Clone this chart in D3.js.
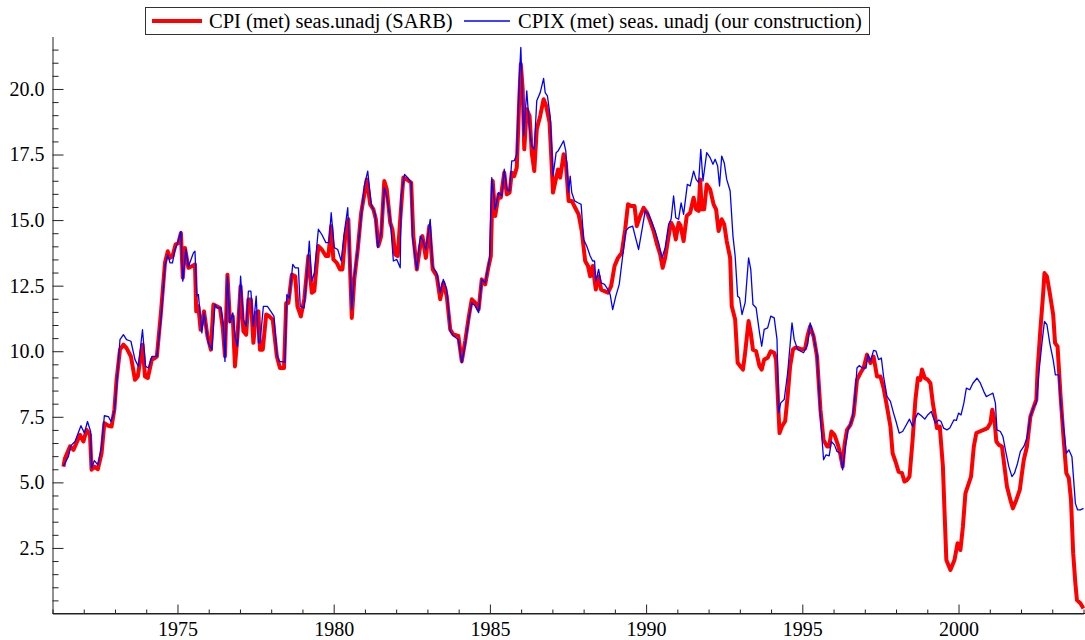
<!DOCTYPE html>
<html>
<head>
<meta charset="utf-8">
<script src="https://cdn.jsdelivr.net/npm/d3@7"></script>
<style>
  html, body { margin: 0; padding: 0; background: #fff; }
  svg { display: block; }
  text { font-family: "Liberation Serif", "Times New Roman", serif; }
</style>
</head>
<body>
<svg id="chart" width="1085" height="640"></svg>
<script>
// ---- Data ----
const seriesNames = ["CPI (met) seas.unadj (SARB)", "CPIX (met) seas. unadj (our construction)"];

const cpiDates = [
1971.35,1971.40,1971.56,1971.67,1971.88,1971.99,1972.09,1972.20,1972.25,1972.34,1972.45,1972.57,1972.66,1972.79,1972.89,1972.98,
1973.05,1973.16,1973.27,1973.37,1973.51,1973.64,1973.73,1973.88,1973.96,1974.05,1974.18,1974.28,1974.34,1974.47,1974.60,1974.69,
1974.76,1974.84,1974.94,1975.03,1975.11,1975.17,1975.24,1975.35,1975.46,1975.56,1975.60,1975.67,1975.74,1975.85,1975.96,1976.07,
1976.15,1976.26,1976.36,1976.45,1976.52,1976.60,1976.68,1976.77,1976.84,1976.92,1977.02,1977.11,1977.20,1977.27,1977.35,1977.43,
1977.52,1977.59,1977.64,1977.73,1977.84,1977.94,1978.05,1978.18,1978.28,1978.41,1978.48,1978.55,1978.66,1978.77,1978.84,1978.95,
1979.06,1979.19,1979.30,1979.38,1979.51,1979.62,1979.75,1979.83,1979.92,1979.99,1980.10,1980.20,1980.28,1980.37,1980.47,1980.58,
1980.66,1980.77,1980.88,1980.98,1981.06,1981.17,1981.27,1981.35,1981.43,1981.52,1981.62,1981.70,1981.81,1981.88,1981.97,1982.05,
1982.13,1982.23,1982.34,1982.48,1982.55,1982.66,1982.77,1982.84,1982.95,1983.06,1983.17,1983.30,1983.41,1983.51,1983.62,1983.73,
1983.83,1983.99,1984.10,1984.21,1984.32,1984.42,1984.53,1984.64,1984.74,1984.85,1984.96,1985.03,1985.09,1985.17,1985.28,1985.35,
1985.46,1985.54,1985.63,1985.70,1985.78,1985.86,1985.94,1985.99,1986.05,1986.10,1986.18,1986.27,1986.34,1986.42,1986.50,1986.61,
1986.72,1986.80,1986.91,1987.02,1987.12,1987.18,1987.25,1987.36,1987.43,1987.52,1987.62,1987.73,1987.84,1987.94,1988.05,1988.14,
1988.21,1988.29,1988.39,1988.48,1988.56,1988.67,1988.78,1988.88,1988.99,1989.10,1989.22,1989.33,1989.42,1989.52,1989.63,1989.70,
1989.81,1989.92,1990.03,1990.13,1990.24,1990.35,1990.45,1990.53,1990.61,1990.72,1990.80,1990.88,1990.95,1991.04,1991.10,1991.20,
1991.30,1991.41,1991.52,1991.60,1991.68,1991.73,1991.78,1991.86,1991.94,1992.05,1992.16,1992.24,1992.32,1992.42,1992.50,1992.58,
1992.69,1992.74,1992.85,1992.93,1993.01,1993.10,1993.17,1993.28,1993.35,1993.42,1993.52,1993.63,1993.70,1993.78,1993.89,1993.99,
1994.10,1994.16,1994.21,1994.27,1994.35,1994.45,1994.53,1994.61,1994.70,1994.77,1994.85,1994.99,1995.09,1995.17,1995.25,1995.36,
1995.47,1995.58,1995.68,1995.79,1995.86,1995.93,1996.03,1996.14,1996.22,1996.29,1996.35,1996.43,1996.54,1996.64,1996.75,1996.86,
1996.96,1997.07,1997.18,1997.28,1997.39,1997.50,1997.60,1997.71,1997.82,1997.89,1998.00,1998.08,1998.19,1998.27,1998.35,1998.43,
1998.53,1998.62,1998.70,1998.78,1998.83,1998.92,1999.02,1999.10,1999.18,1999.31,1999.40,1999.50,1999.55,1999.61,1999.74,1999.87,
1999.97,2000.06,2000.14,2000.22,2000.33,2000.40,2000.49,2000.57,2000.68,2000.80,2000.93,2001.02,2001.08,2001.15,2001.21,2001.29,
2001.39,2001.47,2001.55,2001.66,2001.74,2001.85,2001.96,2002.03,2002.09,2002.19,2002.30,2002.41,2002.49,2002.53,2002.62,2002.71,
2002.75,2002.83,2002.92,2003.03,2003.09,2003.17,2003.26,2003.35,2003.45,2003.53,2003.60,2003.67,2003.74,2003.79,2003.90,2004.00
];
const cpiValues = [
5.60,5.92,6.37,6.24,6.81,6.56,7.00,6.81,5.48,5.60,5.50,6.10,7.26,7.16,7.13,7.77,
8.91,10.06,10.25,10.12,9.80,8.91,9.04,10.25,9.04,8.98,9.68,9.74,9.80,11.46,13.37,13.81,
13.56,13.62,14.07,14.13,14.51,12.80,13.94,13.18,13.24,13.31,11.52,11.71,10.82,11.52,10.57,10.06,
11.78,11.71,11.65,10.89,9.81,12.92,11.14,11.33,9.42,10.57,12.48,10.76,10.63,11.97,11.97,10.32,
11.46,11.52,10.06,10.06,11.40,11.33,11.20,9.81,9.36,9.36,11.84,11.84,12.92,12.86,11.71,11.33,
12.00,13.63,12.23,12.29,14.01,13.88,13.63,13.63,14.77,13.50,13.37,13.12,13.12,14.39,15.03,11.27,
12.74,13.88,15.28,15.98,16.55,15.60,15.41,15.03,14.01,14.39,16.49,16.17,14.90,14.65,13.69,13.63,
15.03,16.62,16.55,16.43,14.39,13.12,14.01,14.39,13.56,14.77,13.12,12.87,11.98,12.61,12.10,10.83,
10.64,10.58,9.62,10.39,11.28,11.98,11.85,11.60,12.74,12.55,13.25,13.63,16.49,15.16,15.98,15.86,
16.81,15.98,16.05,16.81,16.68,17.00,19.61,20.95,19.99,17.70,19.23,18.97,17.57,16.87,18.46,18.97,
19.61,19.36,18.72,16.05,16.60,16.93,16.62,17.51,17.19,15.73,15.73,15.47,15.22,14.58,13.44,13.25,
12.86,13.25,12.35,12.86,12.35,12.29,12.23,12.48,13.25,13.56,13.75,14.65,15.60,15.54,15.54,14.77,
15.16,15.47,15.28,14.96,14.58,14.07,13.69,13.18,13.56,14.39,14.90,14.71,14.26,14.90,14.80,14.20,
15.16,15.28,15.85,15.41,15.35,16.55,15.41,15.41,16.36,16.17,15.60,15.41,14.58,15.03,14.84,14.20,
13.56,11.72,11.21,9.56,9.43,9.30,9.94,11.15,10.70,10.06,10.00,9.43,9.30,9.68,9.75,10.00,
9.94,9.68,8.41,6.88,7.14,7.33,8.28,9.43,10.06,10.13,10.13,10.06,10.10,10.60,10.95,10.57,
9.80,7.77,6.62,6.37,6.37,6.94,6.81,6.43,6.05,5.60,6.43,7.00,7.19,7.58,8.91,9.17,
9.36,9.87,9.55,9.80,9.04,9.04,8.60,7.89,7.13,6.11,5.73,5.41,5.35,5.03,5.09,5.22,
6.62,8.15,8.98,8.91,9.30,8.98,8.91,8.78,8.00,7.07,7.13,5.60,3.95,2.04,1.66,2.04,
2.68,2.42,3.31,4.58,4.97,5.22,6.37,6.88,6.94,7.00,7.07,7.26,7.77,7.38,6.56,6.43,
6.37,5.60,4.84,4.33,4.01,4.33,4.71,5.35,5.86,6.37,7.51,7.89,8.15,9.29,10.82,12.22,
12.98,12.85,12.22,11.39,10.31,10.18,8.40,6.88,5.35,5.16,4.33,2.29,1.15,0.51,0.39,0.19
];

const cpixDates = [
1971.35,1971.51,1971.59,1971.72,1971.91,1972.02,1972.12,1972.22,1972.25,1972.34,1972.45,1972.57,1972.66,1972.79,1972.87,1972.98,
1973.05,1973.16,1973.27,1973.37,1973.51,1973.64,1973.75,1973.88,1973.98,1974.07,1974.18,1974.34,1974.47,1974.60,1974.69,1974.76,
1974.84,1974.92,1975.01,1975.11,1975.17,1975.27,1975.35,1975.51,1975.56,1975.62,1975.67,1975.78,1975.85,1975.99,1976.10,1976.20,
1976.28,1976.39,1976.47,1976.52,1976.60,1976.68,1976.77,1976.84,1976.92,1977.02,1977.11,1977.20,1977.27,1977.35,1977.43,1977.52,
1977.59,1977.64,1977.75,1977.88,1978.02,1978.09,1978.18,1978.26,1978.44,1978.50,1978.58,1978.69,1978.77,1978.87,1978.93,1979.05,
1979.14,1979.22,1979.30,1979.38,1979.51,1979.62,1979.75,1979.85,1979.92,1980.02,1980.13,1980.24,1980.34,1980.45,1980.58,1980.66,
1980.77,1980.88,1980.98,1981.09,1981.20,1981.33,1981.41,1981.52,1981.62,1981.70,1981.81,1981.91,1982.02,1982.13,1982.16,1982.27,
1982.37,1982.48,1982.52,1982.66,1982.77,1982.84,1982.95,1983.09,1983.16,1983.30,1983.41,1983.51,1983.62,1983.73,1983.83,1983.99,
1984.10,1984.21,1984.32,1984.42,1984.53,1984.64,1984.74,1984.85,1984.99,1985.06,1985.17,1985.28,1985.38,1985.46,1985.54,1985.63,
1985.70,1985.78,1985.86,1985.95,1985.99,1986.08,1986.18,1986.27,1986.34,1986.42,1986.50,1986.61,1986.72,1986.77,1986.84,1986.93,
1987.02,1987.12,1987.18,1987.30,1987.36,1987.43,1987.52,1987.57,1987.62,1987.71,1987.82,1987.92,1988.00,1988.10,1988.21,1988.29,
1988.35,1988.39,1988.48,1988.56,1988.67,1988.78,1988.85,1988.93,1989.03,1989.14,1989.25,1989.35,1989.44,1989.57,1989.65,1989.76,
1989.87,1989.97,1990.08,1990.19,1990.29,1990.40,1990.51,1990.61,1990.72,1990.80,1990.88,1990.95,1991.04,1991.12,1991.20,1991.32,
1991.41,1991.52,1991.60,1991.68,1991.75,1991.82,1991.94,1992.05,1992.14,1992.21,1992.29,1992.35,1992.42,1992.50,1992.58,1992.69,
1992.78,1992.85,1992.93,1992.99,1993.07,1993.17,1993.28,1993.35,1993.42,1993.52,1993.63,1993.70,1993.78,1993.89,1993.99,1994.10,
1994.19,1994.24,1994.31,1994.42,1994.53,1994.67,1994.74,1994.85,1994.95,1995.04,1995.17,1995.25,1995.36,1995.47,1995.58,1995.68,
1995.76,1995.86,1995.93,1996.03,1996.11,1996.22,1996.29,1996.38,1996.46,1996.59,1996.67,1996.75,1996.82,1996.93,1997.04,1997.10,
1997.18,1997.28,1997.36,1997.44,1997.53,1997.60,1997.71,1997.82,1997.92,1998.00,1998.10,1998.21,1998.30,1998.43,1998.53,1998.62,
1998.70,1998.81,1998.92,1999.02,1999.13,1999.18,1999.26,1999.37,1999.44,1999.52,1999.63,1999.72,1999.85,1999.93,2000.00,2000.08,
2000.17,2000.25,2000.36,2000.46,2000.59,2000.70,2000.81,2000.89,2001.00,2001.10,2001.18,2001.23,2001.34,2001.42,2001.50,2001.61,
2001.71,2001.79,2001.89,2001.98,2002.09,2002.19,2002.30,2002.41,2002.49,2002.57,2002.67,2002.75,2002.83,2002.92,2003.03,2003.10,
2003.21,2003.28,2003.37,2003.45,2003.53,2003.63,2003.74,2003.81,2003.90,2004.00
];
const cpixValues = [
5.62,5.99,6.40,6.56,7.16,6.88,7.32,6.94,5.54,5.83,5.67,6.37,7.54,7.51,7.32,7.70,
8.66,10.44,10.63,10.44,10.38,9.68,9.42,10.82,9.42,9.36,9.80,9.80,11.20,13.24,13.68,13.37,
13.37,13.88,14.15,14.57,12.67,13.88,13.22,13.75,13.81,12.10,12.16,10.70,11.46,10.32,10.06,11.78,
11.65,11.65,10.95,9.61,12.86,11.08,11.46,10.57,10.19,12.86,11.20,10.95,12.29,12.29,10.95,12.10,
10.32,10.32,11.71,11.71,11.46,11.33,9.87,9.61,9.58,12.16,12.03,13.31,13.18,13.18,11.71,11.65,
12.86,14.20,12.67,12.99,14.65,14.45,14.14,14.14,15.28,13.95,13.88,13.44,14.52,15.47,11.59,12.86,
13.88,15.15,16.30,16.87,15.60,15.22,13.95,14.52,16.24,15.92,15.03,13.44,13.50,13.18,15.92,16.74,
16.62,16.43,14.39,13.12,14.39,14.26,13.88,15.03,13.25,12.99,12.23,12.74,12.36,10.77,10.58,10.45,
9.56,10.26,11.21,11.85,11.72,11.47,12.74,12.61,13.50,16.62,15.41,16.05,15.92,16.94,16.17,16.11,
17.26,17.26,17.51,20.63,21.58,18.21,19.93,18.46,17.83,17.70,19.55,19.86,20.40,19.86,19.74,18.97,
16.68,17.57,17.63,17.89,18.02,17.63,16.05,16.68,16.05,15.73,15.66,15.60,14.26,14.01,13.63,13.44,
13.44,12.67,13.12,12.61,12.55,12.35,12.16,11.59,12.10,12.55,13.63,14.58,14.71,14.77,14.39,13.88,
14.65,15.35,15.22,14.90,14.58,14.14,13.56,13.95,14.84,15.03,15.92,15.09,15.03,15.66,15.22,16.36,
16.30,16.87,16.55,16.43,17.70,16.49,17.57,17.38,17.13,17.32,17.06,16.30,17.44,17.19,16.55,16.11,
14.39,13.63,12.10,12.04,11.40,11.85,13.56,13.12,11.78,11.66,10.70,10.19,10.83,10.89,11.34,11.27,
10.45,7.65,8.03,8.16,9.17,11.08,10.45,10.06,10.00,9.94,10.26,11.08,10.57,9.87,7.51,5.86,
6.05,6.01,6.56,6.43,6.18,6.11,5.48,6.37,7.00,7.38,8.02,9.36,9.45,9.36,9.36,9.87,
9.61,10.03,10.00,9.68,9.74,9.04,8.28,8.09,7.64,7.32,6.88,6.94,7.13,7.41,7.13,7.45,
7.64,7.54,7.41,7.58,7.70,7.51,7.26,7.38,7.32,7.07,7.00,7.07,7.38,7.36,7.64,7.57,
8.02,8.59,8.53,8.78,8.97,8.78,8.46,8.27,8.34,8.40,8.02,7.00,6.94,6.75,6.24,5.60,
5.22,5.35,5.73,6.18,6.37,6.69,7.51,7.89,8.02,9.17,10.31,11.14,11.01,10.31,9.67,9.10,
9.10,7.89,7.00,6.11,6.24,5.98,4.20,3.95,3.95,4.01
];

const xMajorTicks = [1975, 1980, 1985, 1990, 1995, 2000];
const yMajorTicks = [2.5, 5.0, 7.5, 10.0, 12.5, 15.0, 17.5, 20.0];

// ---- Drawing ----
const svg = d3.select("#chart");
const x = d3.scaleLinear().domain([1971, 2004]).range([52.5, 1083.5]);
const y = d3.scaleLinear().domain([0, 22]).range([613.5, 36.5]);

const xMinor = d3.range(1971, 2005, 1).filter(v => !xMajorTicks.includes(v));
const yMinor = d3.range(0.5, 22, 0.5).filter(v => !yMajorTicks.some(t => Math.abs(t - v) < 1e-6));

// minor ticks (no labels)
svg.append("g")
  .attr("transform", `translate(0,${y(0)})`)
  .call(d3.axisBottom(x).tickValues(xMinor).tickSizeInner(-4).tickSizeOuter(0).tickFormat(""))
  .call(g => g.select(".domain").remove());
svg.append("g")
  .attr("transform", `translate(${x(1971)},0)`)
  .call(d3.axisLeft(y).tickValues(yMinor).tickSizeInner(-6).tickSizeOuter(0).tickFormat(""))
  .call(g => g.select(".domain").remove());

// major axes
svg.append("g")
  .attr("transform", `translate(0,${y(0)})`)
  .call(d3.axisBottom(x).tickValues(xMajorTicks).tickSizeInner(-9).tickSizeOuter(0)
        .tickPadding(8).tickFormat(d3.format("d")));
svg.append("g")
  .attr("transform", `translate(${x(1971)},0)`)
  .call(d3.axisLeft(y).tickValues(yMajorTicks).tickSizeInner(-11).tickSizeOuter(0)
        .tickPadding(8).tickFormat(d3.format(".1f")));

svg.selectAll(".tick line, .domain").attr("stroke", "#222");
svg.selectAll(".tick text").attr("font-family", '"Liberation Serif", serif').attr("font-size", 20).attr("fill", "#000");

// x axis line extends to the right edge
svg.append("line")
  .attr("x1", x(1971)).attr("x2", 1085)
  .attr("y1", y(0)).attr("y2", y(0))
  .attr("stroke", "#222");

// series
const cpi = cpiDates.map((d, i) => ({ t: d, v: cpiValues[i] }));
const cpix = cpixDates.map((d, i) => ({ t: d, v: cpixValues[i] }));
const line = d3.line().x(d => x(d.t)).y(d => y(d.v));

svg.append("path").datum(cpi)
  .attr("d", line).attr("fill", "none")
  .attr("stroke", "#ff0000").attr("stroke-width", 4).attr("stroke-linejoin", "round");
svg.append("path").datum(cpix)
  .attr("d", line).attr("fill", "none")
  .attr("stroke", "#0000ff").attr("stroke-width", 1.3).attr("stroke-linejoin", "round");

// legend
const lg = svg.append("g");
lg.append("rect").attr("x", 145.5).attr("y", 7.5).attr("width", 724).attr("height", 27)
  .attr("fill", "#fff").attr("stroke", "#333").attr("stroke-width", 1);
lg.append("line").attr("x1", 152).attr("x2", 202).attr("y1", 21).attr("y2", 21)
  .attr("stroke", "#ff0000").attr("stroke-width", 4);
lg.append("text").attr("x", 209).attr("y", 28).attr("font-size", 20.5).text(seriesNames[0]);
lg.append("line").attr("x1", 464).attr("x2", 510).attr("y1", 21).attr("y2", 21)
  .attr("stroke", "#0000ff").attr("stroke-width", 1.3);
lg.append("text").attr("x", 518).attr("y", 28).attr("font-size", 20.5).text(seriesNames[1]);
</script>
</body>
</html>
